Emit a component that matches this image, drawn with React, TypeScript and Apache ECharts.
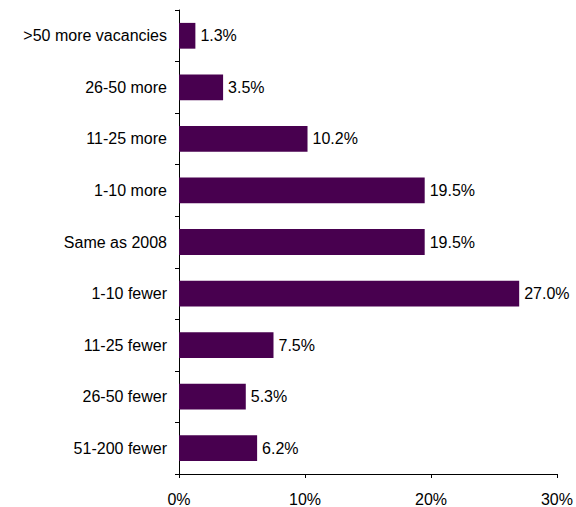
import React, { useEffect, useRef } from "react";
import * as echarts from "echarts";

const categories = [
  ">50 more vacancies",
  "26-50 more",
  "11-25 more",
  "1-10 more",
  "Same as 2008",
  "1-10 fewer",
  "11-25 fewer",
  "26-50 fewer",
  "51-200 fewer",
];
const values = [1.3, 3.5, 10.2, 19.5, 19.5, 27.0, 7.5, 5.3, 6.2];
const xTicks = [0, 10, 20, 30];

export default function App() {
  const ref = useRef<HTMLDivElement>(null);
  useEffect(() => {
    if (!ref.current) return;
    const chart = echarts.init(ref.current, null, { renderer: "svg" });
    const font = "'Liberation Sans', Arial, sans-serif";
    chart.setOption({
      animation: false,
      grid: { left: 179, right: 17, top: 10, bottom: 33, containLabel: false },
      xAxis: {
        type: "value",
        min: xTicks[0],
        max: xTicks[xTicks.length - 1],
        interval: 10,
        splitLine: { show: false },
        axisLine: { show: true, lineStyle: { color: "#000", width: 1 } },
        axisTick: { show: true, length: 4, lineStyle: { color: "#000" } },
        axisLabel: {
          margin: 17,
          color: "#000",
          fontSize: 16,
          fontFamily: font,
          formatter: (v: number) => v + "%",
        },
      },
      yAxis: {
        type: "category",
        inverse: true,
        data: categories,
        axisLine: { show: true, lineStyle: { color: "#000", width: 1 } },
        axisTick: { show: true, length: 4, lineStyle: { color: "#000" } },
        axisLabel: { margin: 12, color: "#000", fontSize: 16, fontFamily: font },
      },
      series: [
        {
          type: "bar",
          data: values,
          barWidth: "50%",
          itemStyle: { color: "#48004f" },
          label: {
            show: true,
            position: "right",
            distance: 5,
            color: "#000",
            fontSize: 16,
            fontFamily: font,
            formatter: (p: any) => p.value.toFixed(1) + "%",
          },
        },
      ],
    });
    return () => chart.dispose();
  }, []);
  return (
    <div
      ref={ref}
      style={{ position: "absolute", left: 0, top: 0, width: 576, height: 507, overflow: "hidden" }}
    />
  );
}
